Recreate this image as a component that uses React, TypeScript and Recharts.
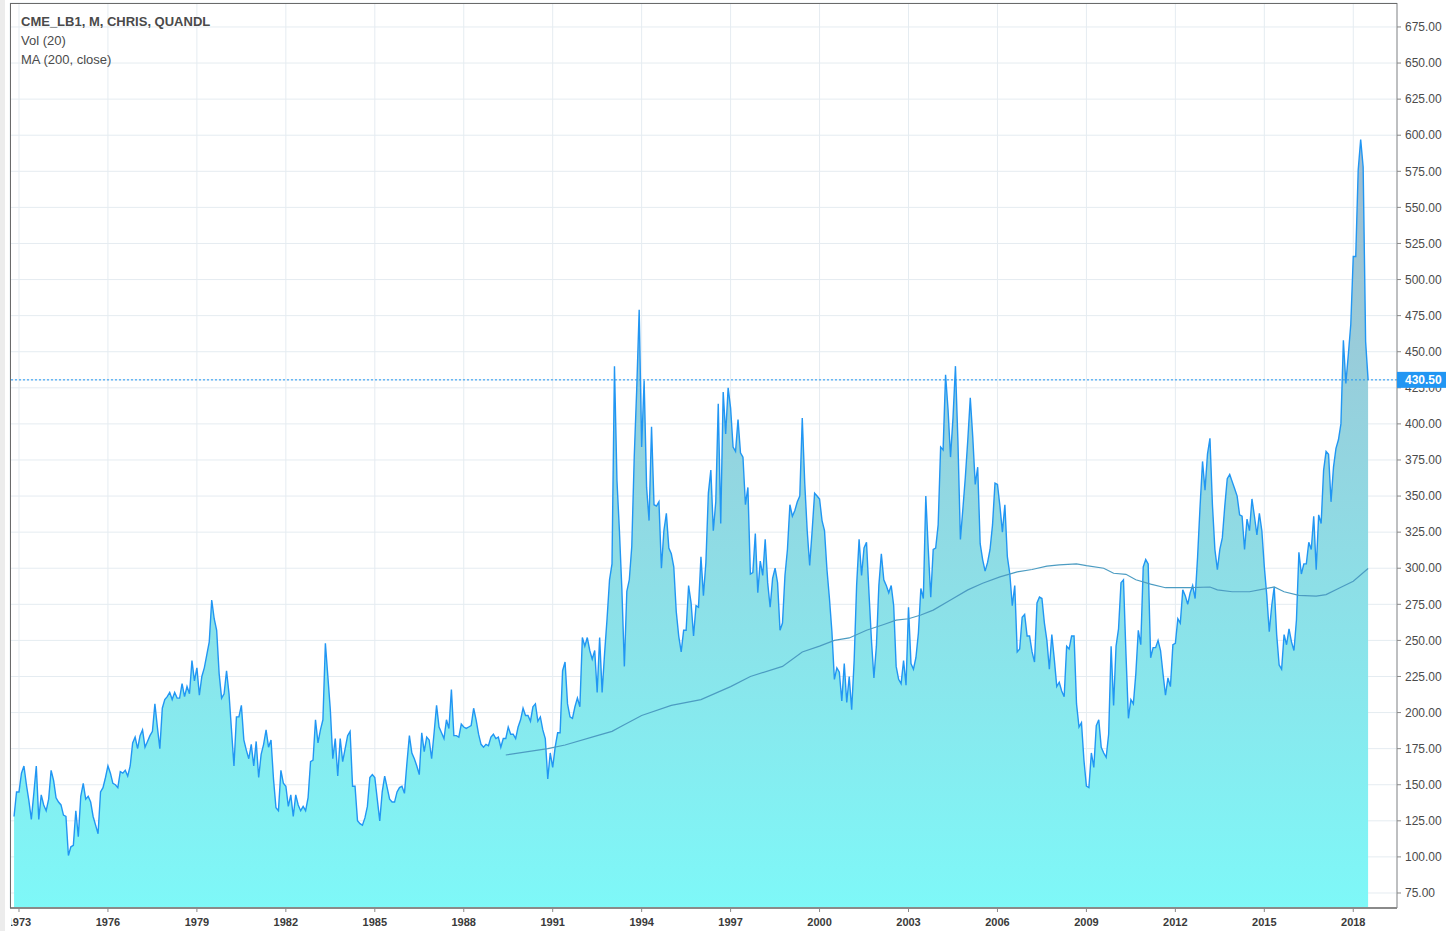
import { Area, CartesianGrid, ComposedChart, Line, ReferenceLine, XAxis, YAxis } from 'recharts';

// monthly closes, first value is Nov 1972
const firstMonth = '1972-11';
const closes = [
    128, 145,
    145, 158, 163, 150, 139, 126, 144, 163, 126, 143, 136, 132, // 1973
    140, 160, 153, 141, 138, 136, 129, 128, 101, 107, 108, 132, // 1974
    114, 142, 151, 140, 142, 138, 128, 122, 116, 145, 148, 155, // 1975
    163, 158, 151, 150, 148, 159, 158, 160, 156, 163, 179, 183, // 1976
    175, 184, 188, 176, 180, 184, 187, 206, 190, 175, 203, 209, // 1977
    211, 214, 209, 214, 210, 210, 220, 211, 218, 213, 236, 222, // 1978
    231, 212, 225, 231, 240, 249, 278, 265, 257, 227, 210, 213, // 1979
    229, 213, 188, 163, 197, 197, 205, 181, 174, 168, 178, 163, // 1980
    180, 155, 171, 178, 188, 176, 181, 154, 134, 132, 160, 151, // 1981
    149, 135, 143, 128, 143, 136, 132, 135, 132, 141, 166, 167, // 1982
    195, 179, 188, 195, 248, 225, 202, 168, 182, 156, 182, 166, // 1983
    175, 184, 187, 149, 149, 125, 123, 122, 127, 135, 155, 157, // 1984
    155, 140, 125, 145, 156, 148, 140, 138, 138, 145, 148, 149, // 1985
    144, 165, 184, 172, 168, 163, 157, 186, 173, 183, 181, 168, // 1986
    186, 205, 190, 186, 182, 195, 189, 216, 184, 184, 183, 192, // 1987
    190, 189, 190, 191, 203, 195, 185, 178, 176, 178, 177, 183, // 1988
    185, 182, 183, 176, 182, 182, 190, 185, 185, 182, 190, 195, // 1989
    203, 198, 198, 194, 204, 206, 194, 197, 188, 182, 154, 172, // 1990
    162, 176, 186, 186, 229, 235, 206, 197, 196, 204, 210, 204, // 1991
    252, 246, 252, 243, 237, 243, 214, 252, 214, 241, 265, 292, // 1992
    303, 440, 361, 326, 285, 232, 284, 292, 315, 377, 424, 479, // 1993
    384, 430, 356, 333, 398, 344, 343, 346, 300, 326, 338, 314, // 1994
    310, 301, 270, 253, 242, 257, 257, 288, 276, 253, 274, 273, // 1995
    308, 281, 304, 352, 368, 326, 346, 414, 331, 422, 393, 425, // 1996
    411, 384, 381, 403, 380, 377, 344, 356, 296, 297, 324, 283, // 1997
    305, 295, 320, 290, 273, 293, 300, 290, 257, 262, 295, 313, // 1998
    344, 336, 340, 346, 350, 404, 359, 326, 302, 326, 352, 350, // 1999
    348, 333, 326, 299, 279, 256, 223, 231, 228, 208, 234, 207, // 2000
    225, 202, 236, 288, 320, 295, 314, 318, 283, 250, 224, 246, // 2001
    288, 310, 292, 288, 283, 288, 274, 232, 223, 220, 236, 219, // 2002
    273, 234, 230, 238, 255, 286, 279, 350, 313, 280, 313, 314, // 2003
    330, 384, 382, 434, 410, 377, 404, 440, 388, 320, 341, 363, // 2004
    389, 418, 391, 358, 370, 317, 306, 298, 304, 313, 330, 359, // 2005
    358, 343, 325, 344, 308, 296, 274, 288, 242, 244, 266, 268, // 2006
    253, 253, 242, 235, 276, 280, 279, 262, 250, 230, 254, 237, // 2007
    218, 221, 215, 211, 246, 244, 253, 253, 206, 190, 193, 167, // 2008
    149, 148, 172, 162, 191, 195, 176, 172, 169, 185, 246, 205, // 2009
    246, 258, 290, 292, 241, 196, 209, 206, 227, 257, 247, 301, // 2010
    306, 303, 238, 245, 245, 250, 243, 227, 212, 224, 218, 247, // 2011
    248, 265, 262, 285, 281, 275, 283, 288, 279, 308, 343, 374, // 2012
    354, 379, 390, 344, 313, 299, 313, 321, 343, 362, 365, 360, // 2013
    355, 350, 337, 336, 313, 334, 326, 348, 336, 323, 338, 326, // 2014
    301, 281, 256, 274, 287, 254, 233, 230, 254, 247, 258, 249, // 2015
    243, 264, 311, 296, 303, 303, 318, 313, 336, 299, 337, 331, // 2016
    368, 381, 379, 346, 370, 383, 389, 400, 458, 428, 448, 469, // 2017
    516, 516, 576, 597, 578, 457, 430.5, // 2018
];

// MA (200, close)
const maMonths = [
    '1989-06', '1990-11', '1991-06', '1992-07', '1993-01', '1993-05', '1994-01', '1995-01',
    '1996-01', '1997-01', '1997-09', '1998-10', '1999-06', '2000-01', '2000-07', '2001-01',
    '2001-08', '2002-03', '2002-08', '2003-01', '2003-06', '2003-11', '2004-06', '2005-01',
    '2005-07', '2006-02', '2006-09', '2007-03', '2007-09', '2008-02', '2008-09', '2009-01',
    '2009-08', '2009-12', '2010-05', '2010-09', '2011-03', '2011-09', '2012-07', '2013-03',
    '2013-06', '2013-12', '2014-07', '2015-01', '2015-05', '2015-09', '2016-03', '2016-10',
    '2017-02', '2017-07', '2018-01', '2018-07',
];
const maValues = [
    170.6, 175, 177.5, 184, 187, 190.7, 198, 205,
    209, 218, 225, 232, 242, 246, 250, 251.7,
    257, 261, 264, 265, 267.6, 271, 278, 285,
    289.6, 294, 297.5, 299.1, 301.4, 302.3, 303, 301.8,
    300, 296.5, 295.8, 292, 289, 286.5, 286.5, 287,
    285, 283.7, 283.7, 285.7, 287, 283.7, 281.2, 280.7,
    281.7, 286, 291, 299.8,
];

const yearTicks = [1973, 1976, 1979, 1982, 1985, 1988, 1991, 1994, 1997, 2000, 2003, 2006, 2009, 2012, 2015, 2018];
const priceTicks = [75, 100, 125, 150, 175, 200, 225, 250, 275, 300, 325, 350, 375, 400, 425, 450, 475, 500, 525, 550, 575, 600, 625, 650, 675];
const lastPrice = 430.5;
const legendLines = ['CME_LB1, M, CHRIS, QUANDL', 'Vol (20)', 'MA (200, close)'];

const baseYear = 1973;
const monthIndex = (s: string) => {
    const [y, m] = s.split('-').map(Number);
    return (y - baseYear) * 12 + m - 1;
};

const start = monthIndex(firstMonth);
const chartData = closes.map((close, i) => ({ t: start + i, close, ma: null as number | null }));
maMonths.forEach((m, i) => {
    const row = chartData[monthIndex(m) - start];
    if (row) row.ma = maValues[i];
});

const font = '"Liberation Sans", Arial, sans-serif';
const plotRight = 1397;

const YearTick = ({ x, y, payload }: any) => (
    <text
        x={x}
        y={y}
        dy={12}
        textAnchor="middle"
        fontSize={11}
        fontWeight="bold"
        fontFamily={font}
        fill="#3a3a3a"
        clipPath="url(#yearClip)"
    >
        {baseYear + payload.value / 12}
    </text>
);

// price labels; the last price badge comes last in the tick list so it is drawn over 425.00
const PriceTick = ({ x, y, payload }: any) => {
    const value = Number(payload.value);
    if (value === lastPrice) {
        return (
            <g>
                <rect x={plotRight} y={y - 8} width={49} height={16} fill="#2196f3" />
                <text x={x} y={y} dy="0.355em" fontSize={12} fontWeight="bold" fontFamily={font} fill="#ffffff">
                    {value.toFixed(2)}
                </text>
            </g>
        );
    }
    return (
        <text x={x} y={y} dy="0.355em" fontSize={12} fontFamily={font} fill="#4b4b4b">
            {value.toFixed(2)}
        </text>
    );
};

export default function App() {
    return (
        <div style={{ position: 'absolute', left: 0, top: 0, width: 1449, height: 931, background: '#fff', overflow: 'hidden' }}>
            <div style={{ position: 'absolute', left: 0, top: 0, width: 5, height: 931, background: '#ececec' }} />
            <ComposedChart width={1449} height={931} data={chartData} margin={{ top: 3, right: 0, bottom: 0, left: 10 }}>
                <defs>
                    <linearGradient id="lumberFill" x1="0" y1="0" x2="0" y2="1">
                        <stop offset="0%" stopColor="#a2bccf" />
                        <stop offset="100%" stopColor="#7ef8f8" />
                    </linearGradient>
                    <clipPath id="yearClip">
                        <rect x={11} y={900} width={1438} height={31} />
                    </clipPath>
                </defs>
                <CartesianGrid stroke="#e5ecf1" strokeWidth={1} />
                <XAxis
                    dataKey="t"
                    type="number"
                    domain={[-3.64, 557.7]}
                    allowDataOverflow
                    ticks={yearTicks.map((y) => (y - baseYear) * 12)}
                    interval={0}
                    height={23}
                    tickSize={4}
                    tick={<YearTick />}
                    tickLine={{ stroke: '#8a8a8a' }}
                    axisLine={{ stroke: '#8a8a8a', strokeWidth: 2 }}
                />
                <YAxis
                    orientation="right"
                    type="number"
                    width={52}
                    domain={[64.6, 691.6]}
                    allowDataOverflow
                    ticks={[...priceTicks, lastPrice]}
                    interval={0}
                    tickSize={4}
                    tickMargin={4}
                    tick={<PriceTick />}
                    tickLine={{ stroke: '#8a8a8a' }}
                    axisLine={{ stroke: '#8a8a8a' }}
                />
                <Area
                    type="linear"
                    dataKey="close"
                    stroke="#2196f3"
                    strokeWidth={1.4}
                    fill="url(#lumberFill)"
                    fillOpacity={1}
                    dot={false}
                    activeDot={false}
                    isAnimationActive={false}
                />
                <Line
                    type="linear"
                    dataKey="ma"
                    stroke="#4c9cc2"
                    strokeWidth={1.2}
                    dot={false}
                    activeDot={false}
                    connectNulls
                    isAnimationActive={false}
                />
                <ReferenceLine y={lastPrice} stroke="#2196f3" strokeDasharray="2 2" strokeWidth={1} />
            </ComposedChart>
            <div
                style={{
                    position: 'absolute',
                    left: 10,
                    top: 3,
                    width: 1387,
                    height: 905,
                    borderLeft: '1px solid #6a6a6a',
                    borderTop: '1px solid #6a6a6a',
                    boxSizing: 'border-box',
                    pointerEvents: 'none',
                }}
            />
            <div
                style={{
                    position: 'absolute',
                    left: 21,
                    top: 12,
                    fontFamily: font,
                    fontSize: 13,
                    lineHeight: '19px',
                    color: '#4a4a4a',
                    whiteSpace: 'nowrap',
                }}
            >
                {legendLines.map((line, i) => (
                    <div key={line} style={{ fontWeight: i === 0 ? 'bold' : 'normal' }}>
                        {line}
                    </div>
                ))}
            </div>
        </div>
    );
}
